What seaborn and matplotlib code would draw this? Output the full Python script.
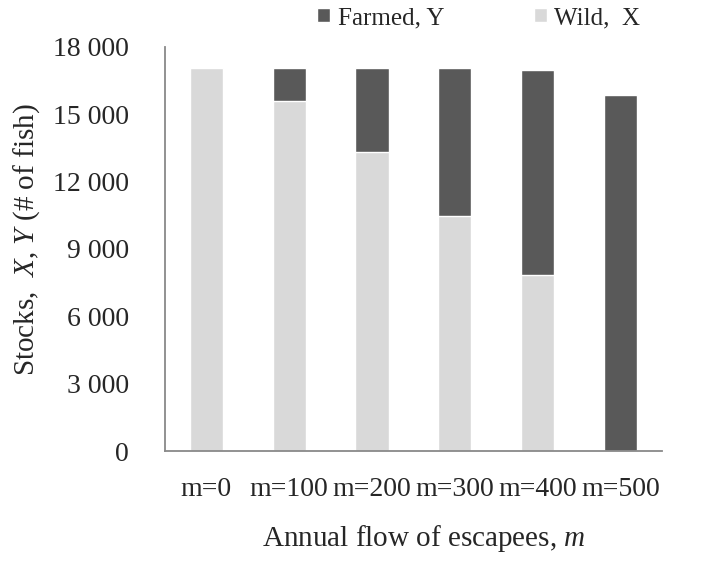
import numpy as np
import pandas as pd
import seaborn as sns
import matplotlib
matplotlib.use("Agg")
import matplotlib.pyplot as plt
from matplotlib.ticker import FuncFormatter
from matplotlib.patches import Patch

# values
categories = ["m=0", "m=100", "m=200", "m=300", "m=400", "m=500"]
wild = [17040, 15610, 13310, 10480, 7820, 0]
farmed = [0, 1430, 3730, 6560, 9130, 15880]

df = pd.DataFrame({"m": categories, "wild": wild, "farmed": farmed})
df["total"] = df["wild"] + df["farmed"]

sns.set_style("white")
plt.rcParams["font.family"] = ["Liberation Serif", "DejaVu Serif"]
plt.rcParams["mathtext.fontset"] = "custom"
plt.rcParams["mathtext.rm"] = "Liberation Serif"
plt.rcParams["mathtext.it"] = "Liberation Serif:italic"

wild_col = "#d9d9d9"
farm_col = "#595959"
axis_col = "#898989"

fig = plt.figure(figsize=(7.19, 5.62), dpi=100)
ax = fig.add_axes([0.2295, 0.1975, 0.691, 0.719])

# stacked: total in farmed colour, wild drawn over it from zero
sns.barplot(data=df, x="m", y="total", color=farm_col, width=0.4,
            saturation=1, ax=ax)
sns.barplot(data=df, x="m", y="wild", color=wild_col, width=0.4,
            saturation=1, ax=ax)

ax.set_ylim(0, 18000)
ax.set_yticks(np.arange(0, 18001, 3000))
ax.yaxis.set_major_formatter(FuncFormatter(lambda v, p: f"{int(v):,}".replace(",", " ")))
ax.set_xlim(-0.5, len(categories) - 0.5)

for s in ["top", "right"]:
    ax.spines[s].set_visible(False)
for s in ["left", "bottom"]:
    ax.spines[s].set_color(axis_col)
    ax.spines[s].set_linewidth(1.3)

ax.tick_params(axis="y", direction="in", length=9, width=1.3, color=axis_col,
               labelsize=20, pad=26)
ax.tick_params(axis="x", length=0, labelsize=20, pad=19)

ax.set_xlabel("Annual flow of escapees, $m$", fontsize=21)
ax.set_ylabel("Stocks,  $X$, $Y$ (# of fish)", fontsize=21)
ax.xaxis.set_label_coords(0.521, -0.178)
ax.yaxis.set_label_coords(-0.2475, 0.522)

handles = [Patch(facecolor=farm_col, label="Farmed, Y"),
           Patch(facecolor=wild_col, label="Wild,  X")]
fig.legend(handles=handles, ncol=2, frameon=False, fontsize=18,
           loc="center left", bbox_to_anchor=(317 / 719, 1 - 18 / 562),
           handlelength=0.52, handleheight=0.52, handletextpad=0.3,
           columnspacing=3.6, borderpad=0, borderaxespad=0)

fig.savefig("out.png", dpi=100)
